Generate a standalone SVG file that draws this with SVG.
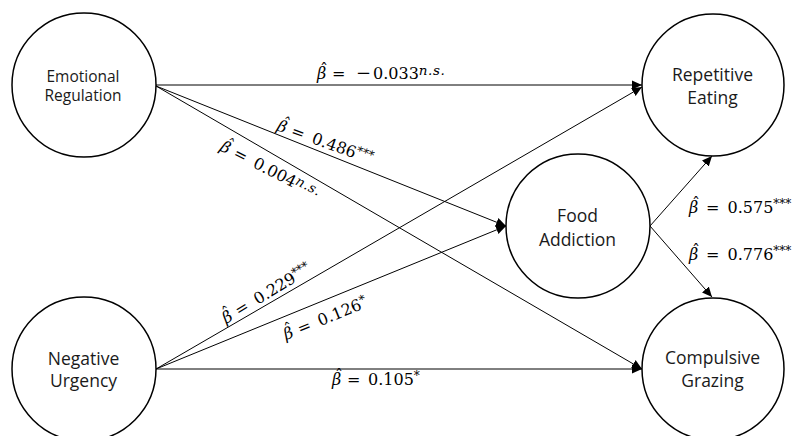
<svg xmlns="http://www.w3.org/2000/svg" width="794" height="436" viewBox="0 0 794 436">
<style>
.node circle{fill:#fff;stroke:#000;stroke-width:1.5}
.lbl{font-family:"Open Sans","Liberation Sans",sans-serif;font-size:17.5px;fill:#1a1a1a;text-anchor:middle}
.sm{font-size:15.5px}
.edge{stroke:#000;stroke-width:1;fill:none;marker-end:url(#ah)}
.m{font-family:"DejaVu Serif",serif;font-size:16px;fill:#000}
.i{font-style:italic}
.s{font-size:12px}
.ns{font-size:13.5px;font-style:italic;letter-spacing:0.6px}
</style>
<defs>
<marker id="ah" markerUnits="userSpaceOnUse" markerWidth="10" markerHeight="10" refX="10" refY="5" orient="auto"><path d="M0,0.5 L10,5 L0,9.5z" fill="#000"/></marker>
</defs>
<rect width="794" height="436" fill="#fff"/>
<g id="connectors">
<line class="edge" x1="156" y1="85" x2="642" y2="85"/>
<line class="edge" x1="156" y1="86" x2="506" y2="226"/>
<line class="edge" x1="156" y1="86" x2="642" y2="369"/>
<line class="edge" x1="156" y1="369" x2="642" y2="87"/>
<line class="edge" x1="156" y1="369" x2="506" y2="226"/>
<line class="edge" x1="156" y1="369" x2="642" y2="369"/>
<line class="edge" x1="650" y1="226" x2="712" y2="156"/>
<line class="edge" x1="650" y1="226" x2="712" y2="297"/>
</g>
<g id="edge-labels">
<text class="m" transform="translate(317,79)"><tspan class="i" x="0">β</tspan><tspan x="3" dy="-4">ˆ</tspan><tspan x="15" dy="4">=</tspan><tspan x="39" style="font-size:18px">−</tspan><tspan x="56">0.033</tspan><tspan class="ns" dy="-4">n.s.</tspan></text>
<text class="m" transform="translate(276,130) rotate(20)"><tspan class="i" x="0">β</tspan><tspan x="3" dy="-4">ˆ</tspan><tspan x="15" dy="4">=</tspan><tspan x="37">0.486</tspan><tspan class="s" dy="-5">***</tspan></text>
<text class="m" transform="translate(219,150) rotate(27)"><tspan class="i" x="0">β</tspan><tspan x="3" dy="-4">ˆ</tspan><tspan x="15" dy="4">=</tspan><tspan x="37">0.004</tspan><tspan class="ns" dy="-4">n.s.</tspan></text>
<text class="m" transform="translate(226,324) rotate(-31)"><tspan class="i" x="0">β</tspan><tspan x="3" dy="-4">ˆ</tspan><tspan x="15" dy="4">=</tspan><tspan x="37">0.229</tspan><tspan class="s" dy="-5">***</tspan></text>
<text class="m" transform="translate(286,340) rotate(-22)"><tspan class="i" x="0">β</tspan><tspan x="3" dy="-4">ˆ</tspan><tspan x="15" dy="4">=</tspan><tspan x="37">0.126</tspan><tspan class="s" dy="-5">*</tspan></text>
<text class="m" transform="translate(332,385)"><tspan class="i" x="0">β</tspan><tspan x="3" dy="-4">ˆ</tspan><tspan x="15" dy="4">=</tspan><tspan x="36">0.105</tspan><tspan class="s" dy="-5">*</tspan></text>
<text class="m" transform="translate(689,213)"><tspan class="i" x="0">β</tspan><tspan x="3" dy="-4">ˆ</tspan><tspan x="17" dy="4">=</tspan><tspan x="38.5">0.575</tspan><tspan class="s" dy="-5">***</tspan></text>
<text class="m" transform="translate(689,260)"><tspan class="i" x="0">β</tspan><tspan x="3" dy="-4">ˆ</tspan><tspan x="17" dy="4">=</tspan><tspan x="38.5">0.776</tspan><tspan class="s" dy="-5">***</tspan></text>
</g>
<g id="emotional-regulation" class="node">
<circle cx="84" cy="85" r="72"/>
<text class="lbl sm" x="83" y="82">Emotional</text>
<text class="lbl sm" x="83" y="101">Regulation</text>
</g>
<g id="negative-urgency" class="node">
<circle cx="84" cy="369" r="72"/>
<text class="lbl" x="83.5" y="365">Negative</text>
<text class="lbl" x="83.5" y="387">Urgency</text>
</g>
<g id="food-addiction" class="node">
<circle cx="578" cy="226" r="72"/>
<text class="lbl" x="577.5" y="222">Food</text>
<text class="lbl" x="577.5" y="246">Addiction</text>
</g>
<g id="repetitive-eating" class="node">
<circle cx="713" cy="85" r="71"/>
<text class="lbl" x="712.5" y="81">Repetitive</text>
<text class="lbl" x="712.5" y="104">Eating</text>
</g>
<g id="compulsive-grazing" class="node">
<circle cx="713" cy="369" r="71"/>
<text class="lbl" x="712.5" y="364">Compulsive</text>
<text class="lbl" x="712.5" y="387">Grazing</text>
</g>
</svg>
